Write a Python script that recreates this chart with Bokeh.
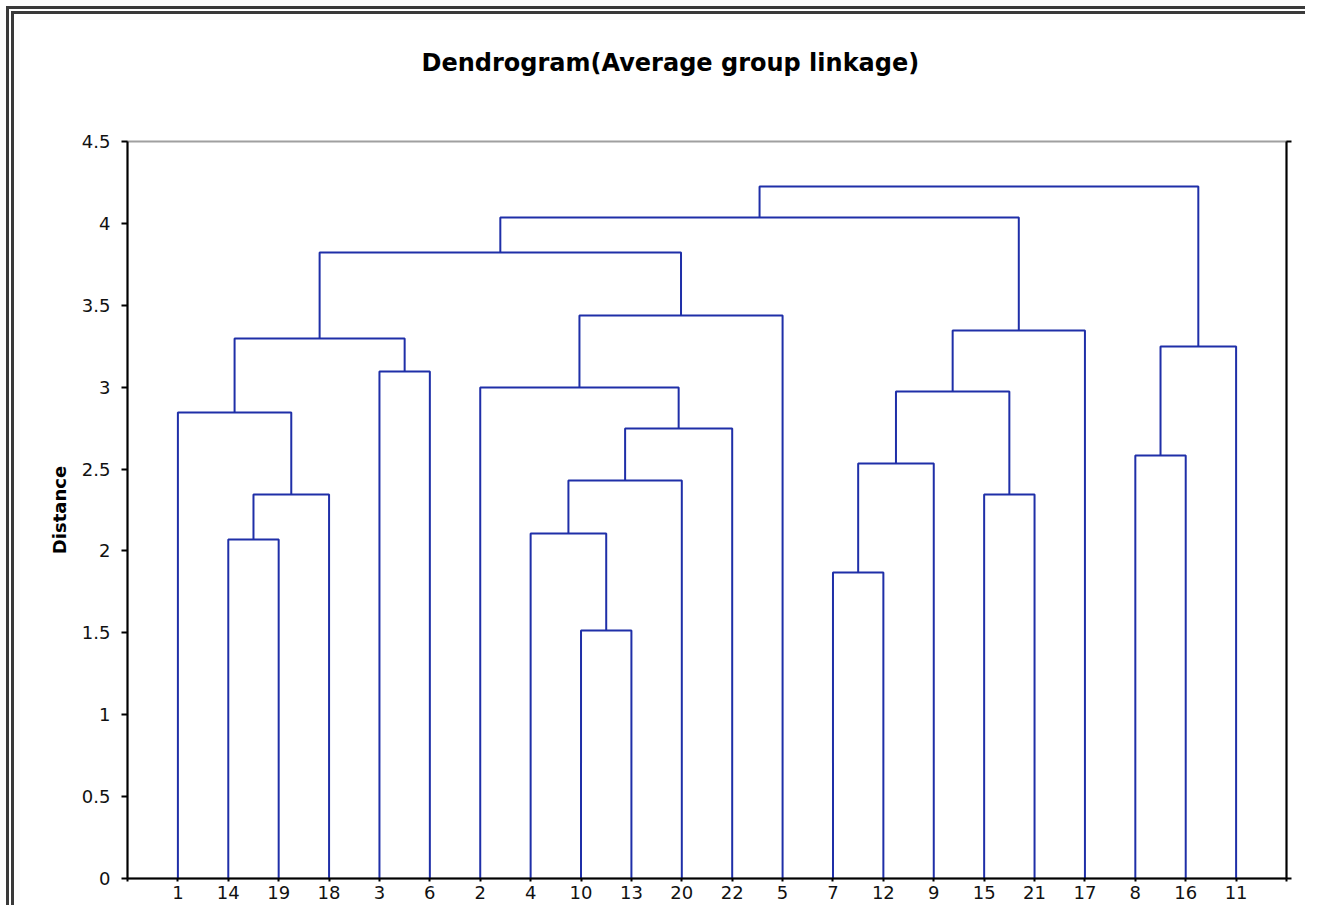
from bokeh.plotting import figure
from bokeh.models import (FixedTicker, LinearAxis, CustomJSTickFormatter, Title,
                          ColumnDataSource, Range1d)
from bokeh.embed import file_html
from bokeh.resources import INLINE

# ---- data ----
leaf_labels = ["1", "14", "19", "18", "3", "6", "2", "4", "10", "13", "20",
               "22", "5", "7", "12", "9", "15", "21", "17", "8", "16", "11"]
# merges: indices 0..21 are leaves (in display order), 22+ are clusters in merge order
merge_left = [1, 22, 0, 4, 24, 8, 7, 28, 29, 6, 31, 26, 13, 34, 16, 35, 37, 33, 19, 40, 39]
merge_right = [2, 3, 23, 5, 25, 9, 27, 10, 11, 30, 12, 32, 14, 15, 17, 36, 18, 38, 20, 21, 41]
merge_height = [2.070, 2.345, 2.845, 3.096, 3.297, 1.514, 2.106, 2.430, 2.748, 2.998,
                3.438, 3.822, 1.868, 2.534, 2.345, 2.974, 3.346, 4.036, 2.583, 3.248, 4.225]
y_ticks = [0, 0.5, 1, 1.5, 2, 2.5, 3, 3.5, 4, 4.5]
title_text = "Dendrogram(Average group linkage)"
y_label = "Distance"

# ---- build dendrogram geometry from merges ----
n = len(leaf_labels)
node_x = [i + 1 for i in range(n)]
node_y = [0.0] * n
xs, ys = [], []
for a, b, h in zip(merge_left, merge_right, merge_height):
    xa, ya, xb, yb = node_x[a], node_y[a], node_x[b], node_y[b]
    xs.append([xa, xa, xb, xb])
    ys.append([ya, h, h, yb])
    node_x.append((xa + xb) / 2)
    node_y.append(h)
src = ColumnDataSource(dict(xs=xs, ys=ys))

FONT = "DejaVu Sans"
BLUE = "#1f2fa8"

p = figure(frame_width=1159, frame_height=737,
           min_border_left=127, min_border_right=19, min_border_top=0, min_border_bottom=27,
           x_range=Range1d(0, n + 1), y_range=Range1d(0, 4.5),
           output_backend="svg", toolbar_location=None, title=None)
p.background_fill_color = "white"
p.border_fill_color = None
p.outline_line_color = "#a0a0a0"
p.outline_line_width = 2
p.grid.visible = False
# double border of the chart area (top and left edges; the rest is cropped in the original)
p.styles = {
    "box-shadow": ("inset 6px 6px 0 0 white, inset 9px 9px 0 0 #3a3a3a, "
                   "inset 11px 11px 0 0 white, inset 14px 14px 0 0 #3a3a3a"),
    "background-color": "white",
}

p.multi_line(xs="xs", ys="ys", source=src, line_color=BLUE, line_width=2)

# x axis
xa = p.xaxis[0]
xa.ticker = FixedTicker(ticks=list(range(0, n + 2)))
overrides = {0: "", n + 1: ""}
for i, lab in enumerate(leaf_labels):
    overrides[i + 1] = lab
xa.major_label_overrides = overrides
xa.major_tick_in = 0
xa.major_tick_out = 3
xa.minor_tick_line_color = None
xa.axis_line_color = "black"
xa.axis_line_width = 2
xa.major_tick_line_width = 2
xa.major_label_standoff = 4
xa.major_label_text_font = FONT
xa.major_label_text_font_size = "18px"
xa.major_label_text_color = "#111111"

# y axis
ya = p.yaxis[0]
ya.ticker = FixedTicker(ticks=y_ticks)
ya.formatter = CustomJSTickFormatter(code="return String(tick)")
ya.major_tick_in = 0
ya.major_tick_out = 6
ya.minor_tick_line_color = None
ya.axis_line_color = "black"
ya.axis_line_width = 2
ya.major_tick_line_width = 2
ya.major_label_standoff = 11
ya.major_label_text_font = FONT
ya.major_label_text_font_size = "18px"
ya.major_label_text_color = "#111111"
ya.axis_label = y_label
ya.axis_label_text_font = FONT
ya.axis_label_text_font_size = "18px"
ya.axis_label_text_font_style = "bold"
ya.axis_label_text_color = "black"
ya.axis_label_standoff = 9

# right axis (ticks only at ends)
ra = LinearAxis(ticker=FixedTicker(ticks=[0, 4.5]),
                formatter=CustomJSTickFormatter(code="return ''"))
ra.major_tick_in = 0
ra.major_tick_out = 5
ra.minor_tick_line_color = None
ra.axis_line_color = "black"
ra.axis_line_width = 2
ra.major_tick_line_width = 2
p.add_layout(ra, "right")

# title (spacer near frame, main title on top)
spacer = Title(text=" ", text_font_size="1px", standoff=14)
p.add_layout(spacer, "above")
main = Title(text=title_text, text_font=FONT, text_font_size="24px", text_font_style="bold",
             text_color="black", align="left", offset=294, vertical_align="middle", standoff=94)
p.add_layout(main, "above")

open("out.html", "w").write(file_html(p, INLINE))
